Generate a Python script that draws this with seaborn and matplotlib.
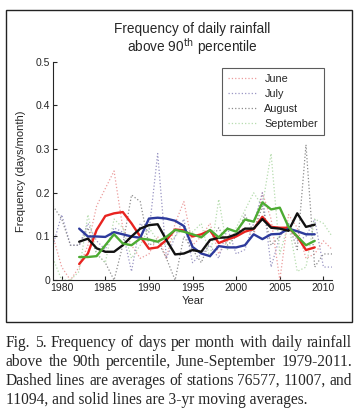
import numpy as np
import pandas as pd
import matplotlib.pyplot as plt
import seaborn as sns
from matplotlib.patches import Rectangle

# 月ごとの日数頻度（3観測所平均） 1979-2011
years = list(range(1979, 2012))
june = [0.10, 0.03, 0.00, 0.03, 0.08, 0.17, 0.21, 0.25, 0.12, 0.08, 0.05, 0.06, 0.10,
        0.05, 0.13, 0.18, 0.08, 0.10, 0.13, 0.06, 0.09, 0.11, 0.12, 0.10, 0.20, 0.14,
        0.00, 0.15, 0.12, 0.05, 0.06, 0.09, 0.07]
july = [0.08, 0.15, 0.08, 0.08, 0.13, 0.09, 0.07, 0.12, 0.11, 0.02, 0.13, 0.11, 0.29,
        0.05, 0.10, 0.14, 0.04, 0.06, 0.08, 0.05, 0.12, 0.06, 0.07, 0.13, 0.20, 0.03,
        0.10, 0.13, 0.09, 0.10, 0.14, 0.03, 0.03]
august = [0.17, 0.14, 0.08, 0.08, 0.12, 0.06, 0.04, 0.00, 0.08, 0.195, 0.18, 0.08, 0.09,
          0.05, 0.00, 0.10, 0.07, 0.04, 0.09, 0.12, 0.08, 0.10, 0.15, 0.11, 0.17, 0.08,
          0.10, 0.13, 0.07, 0.31, 0.03, 0.06, 0.06]
september = [0.05, 0.00, 0.00, 0.02, 0.15, 0.06, 0.04, 0.14, 0.12, 0.05, 0.08, 0.12, 0.09,
             0.08, 0.10, 0.12, 0.11, 0.13, 0.05, 0.185, 0.07, 0.12, 0.16, 0.20, 0.17, 0.29,
             0.06, 0.13, 0.02, 0.03, 0.14, 0.13, 0.10]

# 3年移動平均 1982-2009
ma_years = list(range(1982, 2010))
june_ma = [0.037, 0.061, 0.115, 0.147, 0.153, 0.156, 0.130, 0.100, 0.072, 0.075, 0.092,
           0.116, 0.114, 0.100, 0.105, 0.114, 0.085, 0.093, 0.100, 0.111, 0.117, 0.145,
           0.122, 0.120, 0.120, 0.100, 0.069, 0.075]
july_ma = [0.118, 0.100, 0.100, 0.099, 0.110, 0.105, 0.100, 0.097, 0.141, 0.143, 0.141,
           0.136, 0.124, 0.076, 0.061, 0.055, 0.078, 0.075, 0.075, 0.080, 0.105, 0.094,
           0.105, 0.106, 0.118, 0.112, 0.105, 0.105]
august_ma = [0.088, 0.095, 0.073, 0.065, 0.065, 0.080, 0.100, 0.118, 0.126, 0.128, 0.092,
             0.059, 0.061, 0.069, 0.065, 0.092, 0.097, 0.098, 0.105, 0.118, 0.118, 0.140,
             0.120, 0.118, 0.113, 0.153, 0.122, 0.127]
september_ma = [0.053, 0.053, 0.055, 0.080, 0.105, 0.084, 0.080, 0.095, 0.093, 0.088, 0.099,
                0.115, 0.111, 0.105, 0.098, 0.115, 0.098, 0.118, 0.111, 0.139, 0.134, 0.178,
                0.162, 0.166, 0.122, 0.100, 0.080, 0.090]

months = ["June", "July", "August", "September"]
raw_colors = {"June": "#ec9c9c", "July": "#9a96c4", "August": "#8c8c8c", "September": "#b6dcae"}
ma_colors = {"June": "#e8231f", "July": "#2d3a9c", "August": "#111111", "September": "#4cab32"}

caption = ["Fig. 5. Frequency of days per month with daily rainfall",
           "above the 90th percentile, June-September 1979-2011.",
           "Dashed lines are averages of stations 76577, 11007, and",
           "11094, and solid lines are 3-yr moving averages."]

raw_df = pd.concat([pd.DataFrame({"year": years, "freq": v, "month": m})
                    for m, v in zip(months, [june, july, august, september])])
ma_df = pd.concat([pd.DataFrame({"year": ma_years, "freq": v, "month": m})
                   for m, v in zip(months, [june_ma, july_ma, august_ma, september_ma])])

sns.set_style("ticks")
plt.rcParams['font.family'] = ['Liberation Sans', 'DejaVu Sans']

fig = plt.figure(figsize=(3.63, 4.12), dpi=100)
ax = fig.add_axes([0.146, 0.320, 0.769, 0.530])

sns.lineplot(data=raw_df, x="year", y="freq", hue="month", hue_order=months,
             palette=raw_colors, linestyle=":", linewidth=0.9, ax=ax)
sns.lineplot(data=ma_df, x="year", y="freq", hue="month", hue_order=months,
             palette=ma_colors, linewidth=1.7, legend=False, ax=ax)

ax.set_xlim(1979, 2011)
ax.set_ylim(0, 0.5)
ax.set_xticks(range(1980, 2011, 5))
ax.set_yticks([0, 0.1, 0.2, 0.3, 0.4, 0.5])
ax.set_yticklabels(["0", "0.1", "0.2", "0.3", "0.4", "0.5"])
ax.tick_params(direction="in", length=3, labelsize=7.5, width=0.8, pad=2)
for s in ["left", "bottom"]:
    ax.spines[s].set_linewidth(0.8)
sns.despine(ax=ax)
ax.set_xlabel("Year", fontsize=8, labelpad=2)
ax.set_ylabel("Frequency (days/month)", fontsize=8, labelpad=7)
ax.set_title("Frequency of daily rainfall\nabove 90$^{\\rm th}$ percentile",
             fontsize=9.8, pad=7, linespacing=1.05)

leg = ax.legend(loc="upper right", bbox_to_anchor=(0.99, 0.995), fontsize=7.8,
                frameon=True, fancybox=False, edgecolor="#333333", handlelength=2.6,
                labelspacing=0.45, borderpad=0.55)
leg.get_frame().set_linewidth(0.8)

# 外枠
fig.patches.append(Rectangle((0.0165, 0.218), 0.953, 0.757, transform=fig.transFigure,
                             fill=False, edgecolor="#222222", linewidth=1.0))

# キャプション（両端揃え）
serif = ['Liberation Serif', 'DejaVu Serif']
cap_size = 11.2
x_left, x_right = 0.0165, 0.970
renderer = fig.canvas.get_renderer()
for i, line in enumerate(caption):
    y = 0.168 - i * 0.046
    words = line.split()
    if i == len(caption) - 1:
        fig.text(x_left, y, line, fontsize=cap_size, va="center", ha="left", family=serif)
        continue
    texts = [fig.text(0, y, w, fontsize=cap_size, va="center", ha="left", family=serif)
             for w in words]
    widths = [t.get_window_extent(renderer).width / fig.bbox.width for t in texts]
    gap = (x_right - x_left - sum(widths)) / (len(words) - 1)
    x = x_left
    for t, w in zip(texts, widths):
        t.set_x(x)
        x += w + gap

plt.savefig("out.png", dpi=100)
